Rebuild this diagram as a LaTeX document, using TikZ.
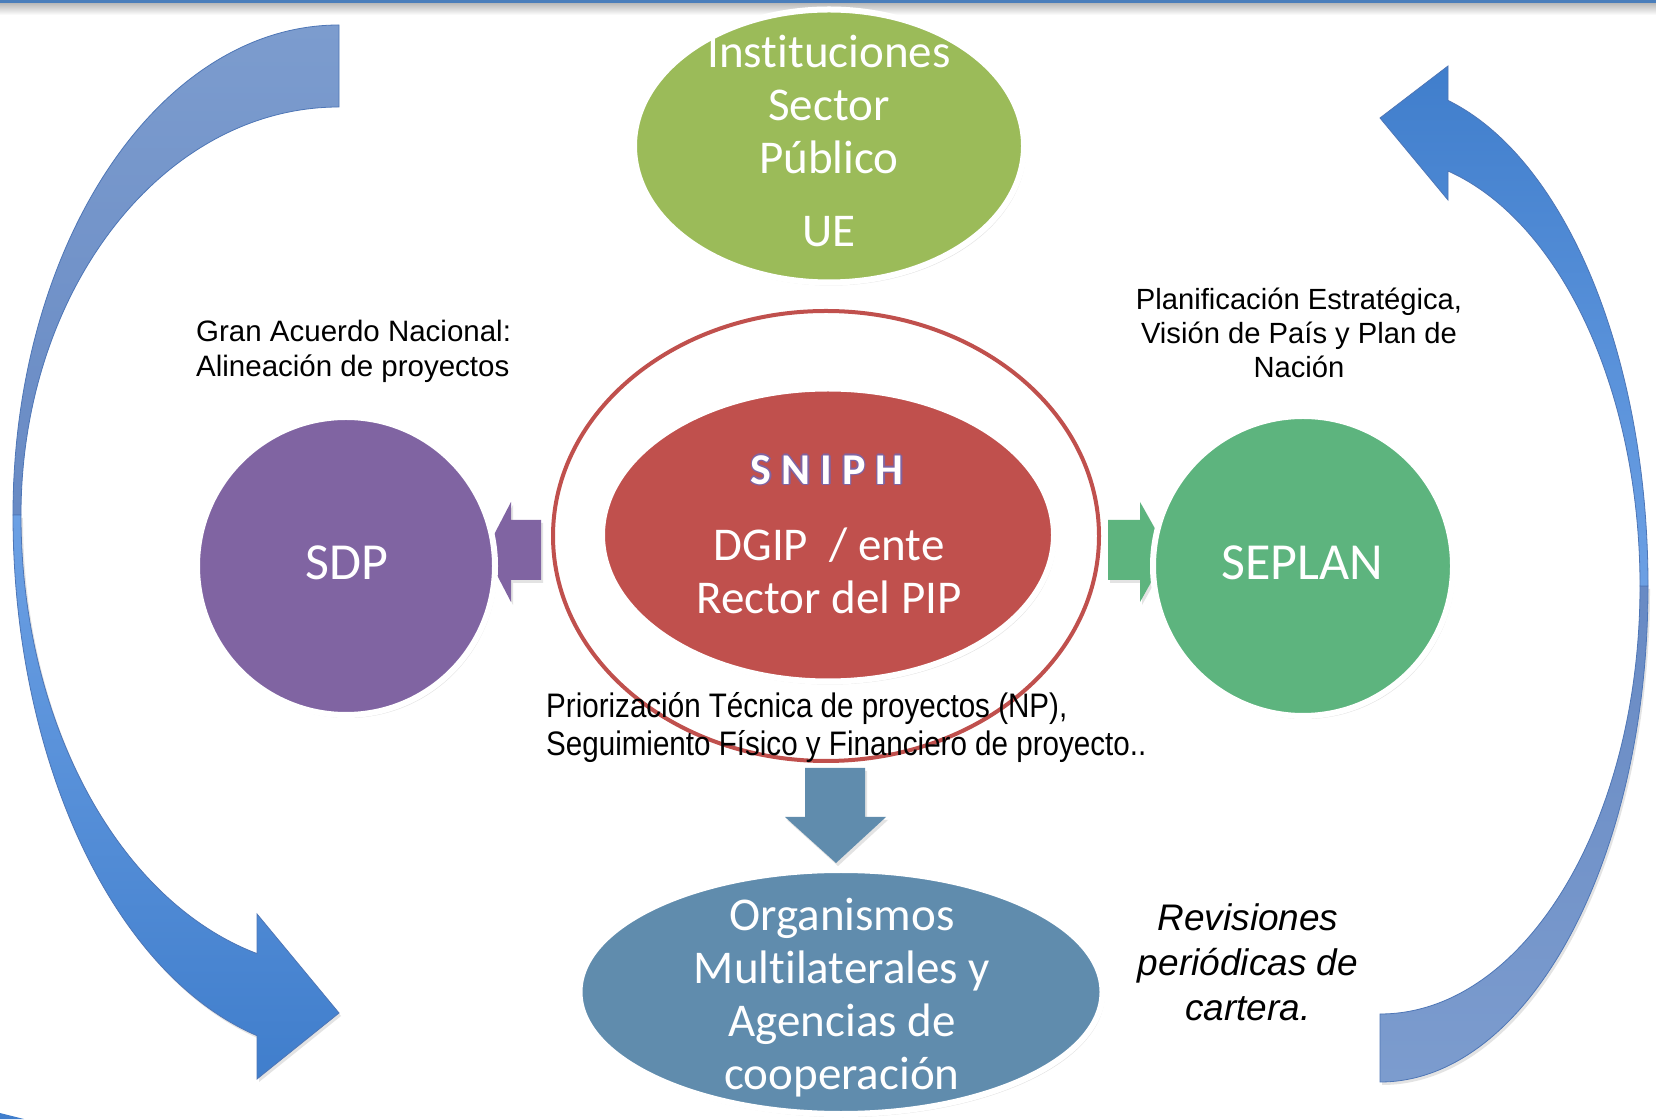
\documentclass[tikz,border=0pt]{standalone}
\usepackage{fontspec}
\setmainfont{Liberation Sans}
\newfontfamily\calfont[Ligatures=NoCommon]{Carlito}
\newfontfamily\narrowfont[FakeStretch=0.87]{Liberation Sans}
\usetikzlibrary{shapes.geometric,shadows}
\pgfdeclarelayer{background}
\pgfsetlayers{background,main}
\definecolor{cgreen}{RGB}{155,187,89}
\definecolor{cred}{RGB}{192,80,77}
\definecolor{cpurple}{RGB}{128,100,162}
\definecolor{cseplan}{RGB}{93,180,126}
\definecolor{csteel}{RGB}{96,140,173}
\definecolor{cback}{RGB}{124,156,206}
\definecolor{cbackdark}{RGB}{104,138,196}
\definecolor{cfront}{RGB}{64,126,204}
\definecolor{cfrontlight}{RGB}{108,160,228}
\definecolor{cedge}{RGB}{78,118,182}
\definecolor{ctopline}{RGB}{74,126,187}
\newcommand{\nolig}{\kern0pt}
\begin{document}
\begin{tikzpicture}[x=1pt,y=1pt,
  softshadow/.style={drop shadow={opacity=0.22, shadow xshift=2pt, shadow yshift=-3pt}},
  bubble/.style={ellipse, draw=white, line width=6pt, inner sep=0pt, softshadow},
  disc/.style={circle, draw=white, line width=6pt, inner sep=0pt, softshadow},
  wtext/.style={text=white, font=\calfont\fontsize{47}{53}\selectfont, align=center, inner sep=0pt},
  btext/.style={text=black, inner sep=0pt},
  ribbon/.style={draw=cedge, line width=0.8pt},
  blockarrow/.style={softshadow}]
\useasboundingbox (0,0) rectangle (1656,1119);
\fill[white] (0,0) rectangle (1656,1119);

% top line
\shade[top color=black!28, bottom color=white] (0,1104) rectangle (1656,1116);
\draw[ctopline, line width=3pt] (0,1117.5) -- (1656,1117.5);

% left curved arrow
\shade[ribbon, top color=cback, bottom color=cbackdark]
  (339,1094) arc[start angle=90, end angle=180, x radius=326, y radius=490]
  -- (21,604) arc[start angle=180, end angle=90, x radius=318, y radius=408] -- cycle;
\shade[ribbon, top color=cfrontlight, bottom color=cfront, softshadow]
  (13,604) arc[start angle=180, end angle=255.43, x radius=326, y radius=538]
  -- (257,40) -- (339,106) -- (257,205) -- (257,165.4)
  arc[start angle=255.06, end angle=180, x radius=318, y radius=454] -- cycle;

% right curved arrow
\shade[ribbon, top color=cbackdark, bottom color=cback, softshadow]
  (1380,37) arc[start angle=270, end angle=360, x radius=268, y radius=496]
  -- (1640,533) arc[start angle=0, end angle=-90, x radius=260, y radius=428] -- cycle;
\shade[ribbon, top color=cfront, bottom color=cfrontlight]
  (1648,533) arc[start angle=0, end angle=75.3, x radius=268, y radius=502]
  -- (1448,1053) -- (1380,1001) -- (1448,919) -- (1448,948)
  arc[start angle=74.84, end angle=0, x radius=260, y radius=430] -- cycle;

% bottom-left sliver
\fill[cfront] (0,0) -- (0,6) -- (24,0) -- cycle;

% block arrows
\fill[cpurple, blockarrow] (541,599) -- (511,599) -- (511,617) -- (485,567) -- (511,517) -- (511,539) -- (541,539) -- cycle;
\fill[cseplan, blockarrow] (1108,599) -- (1140,599) -- (1140,617) -- (1168,567) -- (1140,517) -- (1140,539) -- (1108,539) -- cycle;
\fill[csteel, blockarrow] (805,351) -- (865,351) -- (865,302) -- (886,302) -- (836,256) -- (785,302) -- (805,302) -- cycle;

% shapes
\node[bubble, fill=cgreen, minimum width=390pt, minimum height=273pt] (gr) at (829,973) {};
\node[ellipse, draw=cred, line width=4pt, minimum width=546pt, minimum height=450pt, inner sep=0pt] (ring) at (826,583) {};
\node[bubble, fill=cred, minimum width=452pt, minimum height=293pt] (core) at (828,584) {};
\node[disc, fill=cpurple, minimum size=298pt] (sdp) at (346,553) {};
\node[disc, fill=cseplan, minimum size=300pt] (seplan) at (1303,553) {};
\node[bubble, fill=csteel, minimum width=523pt, minimum height=244pt] (org) at (841,127) {};

% connector green
\begin{pgfonlayer}{background}
\fill[cgreen] ([xshift=-30pt]gr.south) rectangle ([xshift=30pt,yshift=-2pt]ring.north);
\end{pgfonlayer}

% white texts
\node[wtext] (t1) at (829,1014) {Inst\nolig ituciones\\Sector\\Público};
\node[wtext] (t2) at (829,887) {UE};
\foreach \dx/\dy in {-1.6/0,1.6/0,0/-1.6,0/1.6,-1.1/-1.1,1.1/1.1,-1.1/1.1,1.1/-1.1}{
  \path (827,649) ++(\dx,\dy) node[text=cpurple, inner sep=0pt, font=\calfont\bfseries\fontsize{44}{50}\selectfont] {S\hspace{10pt}N\hspace{10pt}I\hspace{10pt}P\hspace{10pt}H};
}
\node[text=white, inner sep=0pt, font=\calfont\bfseries\fontsize{44}{50}\selectfont] (t3) at (827,649) {S\hspace{10pt}N\hspace{10pt}I\hspace{10pt}P\hspace{10pt}H};
\node[wtext] (t4) at (829,548) {DGIP\ \ / ente\\Rector del PIP};
\node[wtext, font=\calfont\fontsize{52}{58}\selectfont] (t5) at (347,556) {SDP};
\node[wtext, font=\calfont\fontsize{52}{58}\selectfont] (t6) at (1302,556) {SEPLAN};
\node[wtext] (t7) at (842,121) {Organismos\\Mult\nolig ilaterales y\\Agencias de\\cooperación};

% black texts
\node[btext, anchor=west, align=left, font=\fontsize{29.5}{35}\selectfont] (t8) at (196,768) {Gran Acuerdo Nacional:\\Alineación de proyectos};
\node[btext, align=center, font=\fontsize{29.2}{34}\selectfont] (t9) at (1299,786) {Planificación Estratégica,\\Visión de País y Plan de\\Nación};
\node[btext, anchor=west, align=left, font=\narrowfont\fontsize{34}{38}\selectfont] (t10) at (546,391) {Priorización Técnica de proyectos (NP),\\Seguimiento Físico y Financiero de proyecto..};
\node[btext, align=center, font=\itshape\fontsize{37}{45}\selectfont] (t11) at (1248,157) {Revisiones\\periódicas de\\cartera.};
\end{tikzpicture}
\end{document}
